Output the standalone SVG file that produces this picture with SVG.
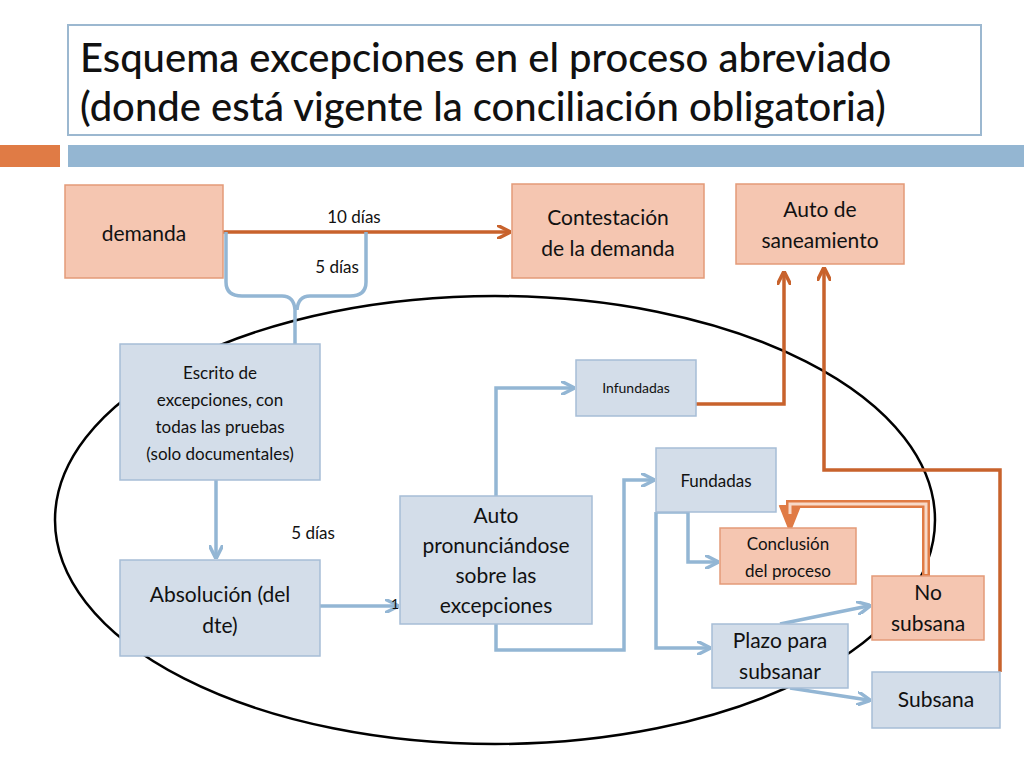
<svg xmlns="http://www.w3.org/2000/svg" width="1024" height="768" viewBox="0 0 1024 768">
<defs>
<style>
text{font-family:Lato,"Open Sans","Liberation Sans",sans-serif;fill:#111;text-anchor:middle}
.o{fill:#f5c6b1;stroke:#e39a78;stroke-width:1.5}
.b{fill:#d3dde9;stroke:#a6bdd6;stroke-width:1.5}
.bl{fill:none;stroke:#93b6d4;stroke-width:3.5}
.or{fill:none;stroke:#c8622c;stroke-width:3.5}
</style>
<marker id="ab" viewBox="0 0 10 10" refX="8" refY="5" markerWidth="4" markerHeight="4" orient="auto"><path d="M0,0 L10,5 L0,10" fill="none" stroke="#93b6d4" stroke-width="2.5"/></marker>
<marker id="ao" viewBox="0 0 10 10" refX="8" refY="5" markerWidth="4" markerHeight="4" orient="auto"><path d="M0,0 L10,5 L0,10" fill="none" stroke="#c8622c" stroke-width="2.5"/></marker>
<marker id="at" viewBox="0 0 10 10" refX="8" refY="5" markerWidth="3" markerHeight="3" orient="auto"><path d="M0,1 L10,5 L0,9" fill="#e07b45" stroke="#e07b45" stroke-width="1.5"/></marker>
</defs>
<rect width="1024" height="768" fill="#fff"/>
<rect x="68" y="25" width="913" height="110" fill="#fff" stroke="#9cb8d0" stroke-width="2"/>
<text x="80" y="72" font-size="40" font-weight="500" style="text-anchor:start">Esquema excepciones en el proceso abreviado</text>
<text x="80" y="121" font-size="40" font-weight="500" style="text-anchor:start">(donde está vigente la conciliación obligatoria)</text>
<rect x="0" y="145" width="60" height="22" fill="#e07b45"/>
<rect x="68" y="145" width="956" height="22" fill="#94b6d2"/>
<ellipse cx="495" cy="520" rx="440" ry="224" fill="none" stroke="#000" stroke-width="2.5"/>
<g id="connectors">
<path class="or" d="M223,232 H508" marker-end="url(#ao)"/>
<path class="bl" d="M226,232 V282 Q226,296 242,296 H282 Q294,296 295,310 V344 M366,232 V282 Q366,296 350,296 H310 Q298,296 297,310" stroke-width="3"/>
<path class="bl" d="M216,480 V556" marker-end="url(#ab)"/>
<path class="bl" d="M320,606 H396" marker-end="url(#ab)"/>
<path class="bl" d="M496,624 V650 H624 V480 H652" marker-end="url(#ab)"/>
<path class="bl" d="M496,496 V388 H572" marker-end="url(#ab)"/>
<path class="or" d="M696,404 H784 V274" marker-end="url(#ao)"/>
<path class="bl" d="M656,512 H688 V562 H716" marker-end="url(#ab)"/>
<path class="bl" d="M656,512 V648 H708" marker-end="url(#ab)"/>
<path class="bl" d="M780,624 L868,606" marker-end="url(#ab)"/>
<path class="bl" d="M790,688 L868,700" marker-end="url(#ab)"/>
<path d="M926,576 V504 H790 V524" fill="none" stroke="#e07b45" stroke-width="8" marker-end="url(#at)"/>
<path d="M926,574 V504 H790 V514" fill="none" stroke="#f8d9c8" stroke-width="3"/>
<path class="or" d="M1000,672 V470 H824 V270" marker-end="url(#ao)"/>
</g>
<g id="demanda"><rect class="o" x="65" y="185" width="158" height="93"/><text x="144" y="241" font-size="21">demanda</text></g>
<g id="contestacion"><rect class="o" x="512" y="184" width="192" height="94"/><text x="608" y="225" font-size="21">Contestación</text><text x="608" y="256" font-size="21">de la demanda</text></g>
<g id="saneamiento"><rect class="o" x="736" y="184" width="168" height="80"/><text x="820" y="217" font-size="21">Auto de</text><text x="820" y="248" font-size="21">saneamiento</text></g>
<g id="escrito"><rect class="b" x="120" y="344" width="200" height="136"/>
<text x="220" y="379" font-size="17">Escrito de</text><text x="220" y="406" font-size="17">excepciones, con</text><text x="220" y="433" font-size="17">todas las pruebas</text><text x="220" y="460" font-size="17">(solo documentales)</text></g>
<g id="absolucion"><rect class="b" x="120" y="560" width="200" height="96"/><text x="220" y="602" font-size="21">Absolución (del</text><text x="220" y="633" font-size="21">dte)</text></g>
<g id="auto"><rect class="b" x="400" y="496" width="192" height="128"/>
<text x="496" y="523" font-size="21">Auto</text><text x="496" y="553" font-size="21">pronunciándose</text><text x="496" y="583" font-size="21">sobre las</text><text x="496" y="613" font-size="21">excepciones</text></g>
<g id="infundadas"><rect class="b" x="576" y="360" width="120" height="56"/><text x="636" y="393" font-size="14">Infundadas</text></g>
<g id="fundadas"><rect class="b" x="656" y="448" width="120" height="64"/><text x="716" y="487" font-size="17">Fundadas</text></g>
<g id="conclusion"><rect class="o" x="720" y="528" width="136" height="56"/><text x="788" y="550" font-size="17">Conclusión</text><text x="788" y="577" font-size="17">del proceso</text></g>
<g id="plazo"><rect class="b" x="712" y="624" width="136" height="64"/><text x="780" y="648" font-size="21">Plazo para</text><text x="780" y="679" font-size="21">subsanar</text></g>
<g id="nosubsana"><rect class="o" x="872" y="576" width="112" height="64"/><text x="928" y="600" font-size="21">No</text><text x="928" y="631" font-size="21">subsana</text></g>
<g id="subsana"><rect class="b" x="872" y="672" width="128" height="56"/><text x="936" y="707" font-size="21">Subsana</text></g>
<text x="354" y="223" font-size="17">10 días</text>
<text x="337" y="273" font-size="17">5 días</text>
<text x="313" y="539" font-size="17">5 días</text>
<text x="395" y="609" font-size="14">1</text>
</svg>
